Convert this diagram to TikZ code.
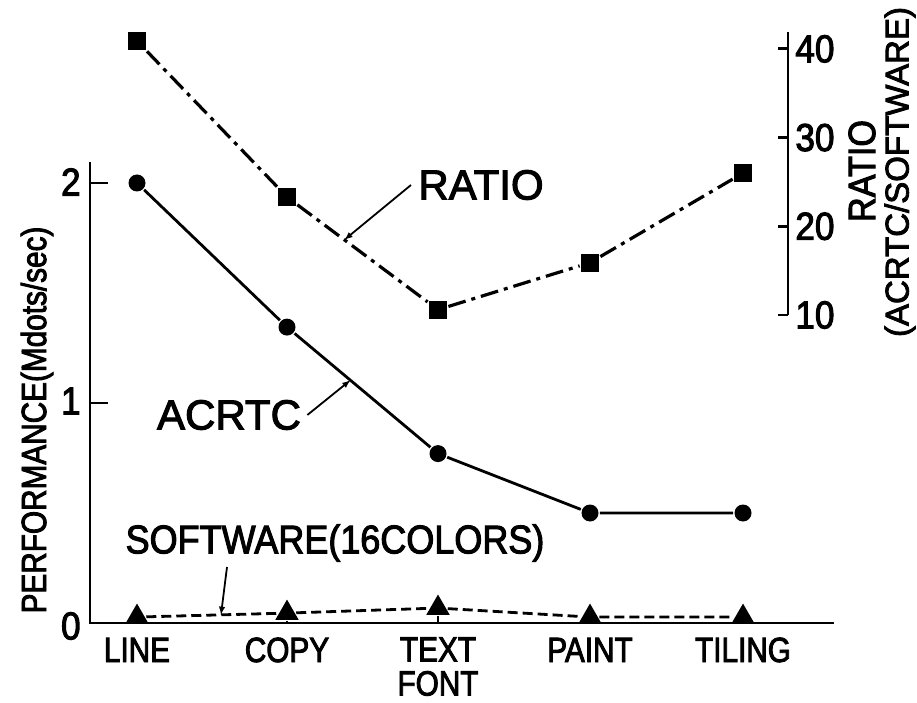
\documentclass[tikz,border=0pt]{standalone}
\usepackage{fontspec}
\setmainfont{Liberation Sans}[FakeBold=2.5]
\newfontfamily\narrowfont{Liberation Sans}[FakeStretch=0.85, FakeBold=2.5]
\newfontfamily\midfont{Liberation Sans}[FakeStretch=0.9, FakeBold=2.5]
\usetikzlibrary{arrows}
\usetikzlibrary{calc,shapes.geometric}

\begin{document}
\begin{tikzpicture}[x=1pt, y=1pt, >=latex, line width=2.8pt,
	acrtcmark/.style={circle,fill,inner sep=0pt,minimum size=17pt},
	ratiomark/.style={rectangle,fill,inner sep=0pt,minimum size=18pt},
	swmark/.style={regular polygon,regular polygon sides=3,fill,inner sep=0pt,minimum size=27pt},
	catlabel/.style={font=\narrowfont\fontsize{35}{35}\selectfont, inner sep=0pt, anchor=base},
	ticklabel/.style={font=\midfont\fontsize{39}{39}\selectfont, inner sep=0pt},
	biglabel/.style={font=\fontsize{42}{42}\selectfont, inner sep=0pt}]
			\useasboundingbox (-90,-79) rectangle (827,623);
			% Axes. The left axis is in Mdots/sec (220pt per unit), the right one is the ratio
			\coordinate (origin) at (0,0);
			\draw (0,461) -- (origin) -- (744,0);
			\draw (0,220) -- (18,220);
			\draw (0,440) -- (18,440);
			\node[ticklabel, anchor=east] (y0) at (-8,-3) {0};
			\node[ticklabel, anchor=east] (y1) at (-8,222) {1};
			\node[ticklabel, anchor=east] (y2) at (-8,441) {2};
			\node[catlabel, rotate=90, anchor=center] (ytitle) at (-53,203) {PERFORMANCE(Mdots/sec)};
			
			\draw (698,308) -- (698,591);
			\draw (688,308) -- (698,308) (688,{308+8.87*10}) -- (698,{308+8.87*10});
			\draw (688,{308+8.87*20}) -- (698,{308+8.87*20}) (688,{308+8.87*30}) -- (698,{308+8.87*30});
			\node[ticklabel, anchor=west] (r10) at (704,308) {10};
			\node[ticklabel, anchor=west] (r20) at (704,{308+8.87*10}) {20};
			\node[ticklabel, anchor=west] (r30) at (704,{308+8.87*20}) {30};
			\node[ticklabel, anchor=west] (r40) at (704,{308+8.87*30}) {40};
			\node[font=\midfont\fontsize{38}{38}\selectfont, rotate=90, inner sep=0pt] (rtitle) at (772,452) {RATIO};
			\node[font=\fontsize{33}{33}\selectfont, rotate=90, inner sep=0pt] (rtitle2) at (810,451) {(ACRTC/SOFTWARE)};
			
			% Categories
			\node[catlabel] (line) at (47,-39) {LINE};
			\node[catlabel] (copy) at (197,-39) {COPY};
			\node[catlabel, align=center, anchor=north, font=\narrowfont\fontsize{35}{34}\selectfont] (text) at (348,-13) {TEXT\\FONT};
			\node[catlabel] (paint) at (500,-39) {PAINT};
			\node[catlabel] (tiling) at (653,-39) {TILING};
			
			% Ratio ACRTC/software
			\node[ratiomark] (r1) at (47,{308+8.87*(40.9-10)}) {};
			\node[ratiomark] (r2) at (197,{308+8.87*(23.3-10)}) {};
			\node[ratiomark] (r3) at (348,{308+8.87*(10.6-10)}) {};
			\node[ratiomark] (r4) at (500,{308+8.87*(15.9-10)}) {};
			\node[ratiomark] (r5) at (653,{308+8.87*(26-10)}) {};
			\draw[line width=3.2pt, dash pattern=on 18pt off 6pt on 4pt off 6pt] (r1) -- (r2) -- (r3) -- (r4) -- (r5);
			
			% ACRTC
			\node[acrtcmark] (a1) at (47,{220*2.0}) {};
			\node[acrtcmark] (a2) at (197,{220*1.345}) {};
			\node[acrtcmark] (a3) at (348,{220*0.77}) {};
			\node[acrtcmark] (a4) at (500,{220*0.5}) {};
			\node[acrtcmark] (a5) at (653,{220*0.5}) {};
			\draw (a1) -- (a2) -- (a3) -- (a4) -- (a5);
			
			% Software, 16 colors
			\node[swmark] (s1) at (47,{220*0.027}) {};
			\node[swmark] (s2) at (197,{220*0.045}) {};
			\node[swmark] (s3) at (348,{220*0.068}) {};
			\node[swmark] (s4) at (500,{220*0.027}) {};
			\node[swmark] (s5) at (653,{220*0.027}) {};
			\draw[line width=1.5pt] (s2) -- (s2 |- origin) (s3) -- (s3 |- origin);
			\draw[line width=2.8pt, dash pattern=on 10pt off 5pt] (s1) -- (s2) -- (s3) -- (s4) -- (s5);
			
			% Labels with their arrows
			\node[biglabel, inner sep=6pt] (ratiolbl) at (391,438) {RATIO};
			\draw[->, line width=1.8pt] (ratiolbl.west) -- ($(r2)!0.38!(r3)$);
			\node[biglabel, inner sep=5pt] (acrtclbl) at (139,208) {ACRTC};
			\draw[->, line width=1.8pt] (acrtclbl.east) -- ($(a2)!0.42!(a3)$);
			\node[font=\midfont\fontsize{40}{40}\selectfont, inner sep=0pt] (swlbl) at (245,80) {SOFTWARE(16COLORS)};
			\coordinate (swstart) at (137,56);
			\draw[->, line width=1.8pt] (swstart) -- ($(s1)!0.56!(s2)$);
\end{tikzpicture}
\end{document}
